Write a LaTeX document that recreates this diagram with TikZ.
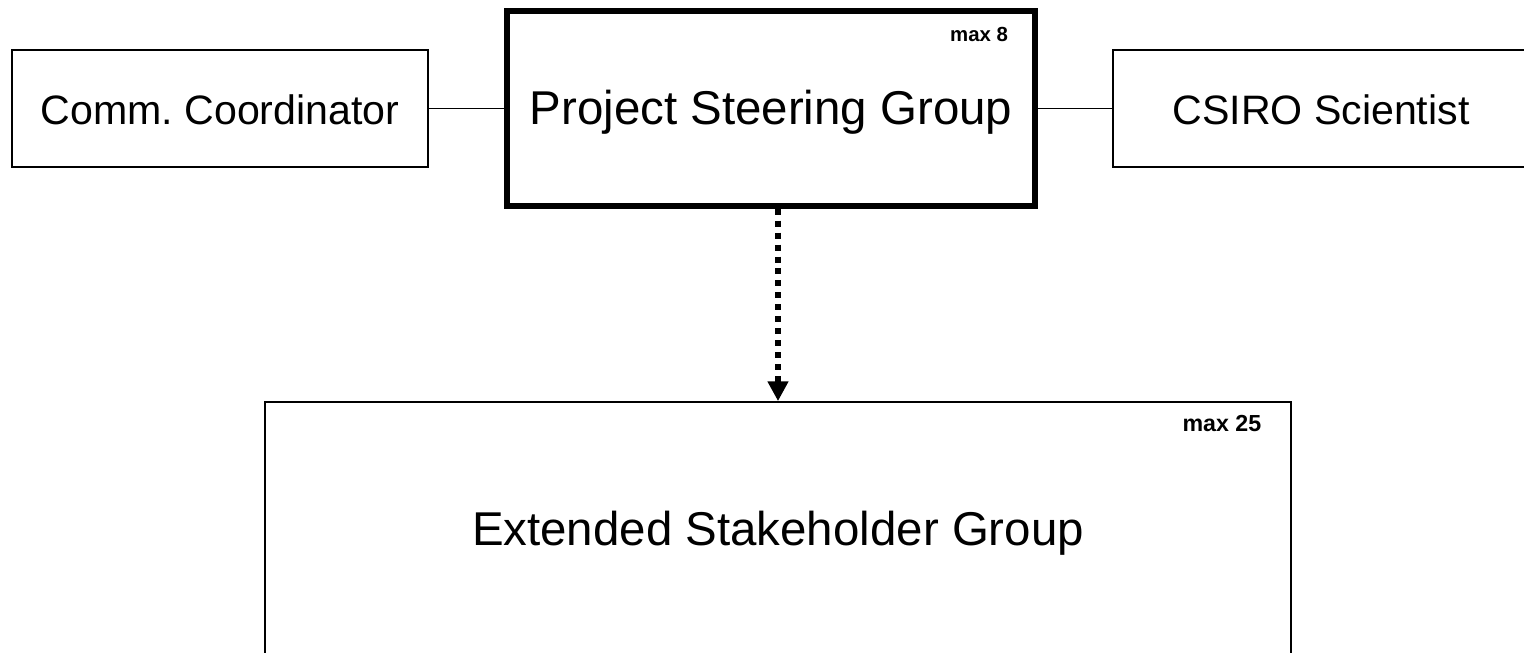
\documentclass[tikz,border=0pt]{standalone}
\usepackage{fontspec}
\setmainfont{Liberation Sans}
\usepackage{tikz}
\usetikzlibrary{arrows.meta,positioning}

\begin{document}
\begin{tikzpicture}[
  >=Stealth,
  blk/.style={draw, line width=0.5pt, align=center, inner sep=0pt, text height=9.3pt, text depth=0pt, font=\fontsize{11.7pt}{14pt}\selectfont},
  maxlbl/.style={font=\bfseries, inner sep=0pt, anchor=base east}]
\useasboundingbox (0,0) rectangle (15.24,-6.52);
\node[blk, minimum width=4.16cm, minimum height=1.17cm] (comm) at (2.20,-1.085) {Comm.\ Coordinator};
\node[blk, line width=1.7pt, minimum width=5.275cm, minimum height=1.945cm, font=\fontsize{13.5pt}{16pt}\selectfont] (psg) at (7.71,-1.085) {Project Steering Group};
\node[blk, minimum width=4.16cm, minimum height=1.17cm] (csiro) at (13.21,-1.085) {CSIRO Scientist};
\node[blk, minimum width=10.26cm, minimum height=2.54cm, font=\fontsize{13.5pt}{16pt}\selectfont] (esg) at (7.78,-5.29) {Extended Stakeholder Group};
\node[maxlbl, font=\fontsize{5.8pt}{7pt}\bfseries] (psgmax) at ([xshift=-0.29cm, yshift=-0.33cm]psg.north east) {max 8};
\node[maxlbl, font=\fontsize{6.6pt}{8pt}\bfseries] (esgmax) at ([xshift=-0.30cm, yshift=-0.30cm]esg.north east) {max 25};
\draw[line width=0.5pt] (comm) -- (psg);
\draw[line width=0.5pt] (psg) -- (csiro);
\draw[-{Triangle[length=5.6pt, width=5.6pt]}, line width=1.7pt, dash pattern=on 1.7pt off 1.7pt] (esg.north |- psg.south) -- (esg.north);
\end{tikzpicture}
\end{document}
